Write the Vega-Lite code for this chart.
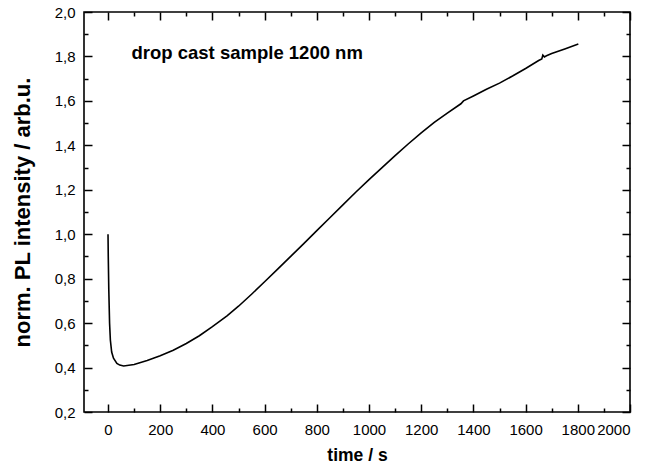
{
  "$schema": "https://vega.github.io/schema/vega-lite/v6.json",
  "autosize": {"type": "none"},
  "padding": {"left": 84, "top": 12, "right": 18, "bottom": 57},
  "width": 546,
  "height": 400,
  "config": {
    "view": {"stroke": "black", "strokeWidth": 1.6},
    "font": "Liberation Sans",
    "axis": {"grid": false, "domain": false, "tickColor": "black", "tickWidth": 1.5, "labelColor": "black", "titleColor": "black", "labelFont": "Liberation Sans", "titleFont": "Liberation Sans", "labelFontSize": 15, "titleFontSize": 17.5, "titleFontWeight": "bold"}
  },
  "data": {
    "values": [
      {"t": 0, "v": 1.0}, {"t": 1, "v": 0.9}, {"t": 3, "v": 0.75}, {"t": 6, "v": 0.6},
      {"t": 9, "v": 0.524}, {"t": 14, "v": 0.47}, {"t": 21, "v": 0.442}, {"t": 34, "v": 0.419},
      {"t": 45, "v": 0.411}, {"t": 60, "v": 0.407}, {"t": 100, "v": 0.414}, {"t": 150, "v": 0.432},
      {"t": 200, "v": 0.453}, {"t": 250, "v": 0.478}, {"t": 300, "v": 0.508}, {"t": 350, "v": 0.543},
      {"t": 400, "v": 0.584}, {"t": 456, "v": 0.633}, {"t": 500, "v": 0.676}, {"t": 550, "v": 0.73},
      {"t": 600, "v": 0.786}, {"t": 650, "v": 0.843}, {"t": 700, "v": 0.9}, {"t": 750, "v": 0.958},
      {"t": 800, "v": 1.016}, {"t": 850, "v": 1.074}, {"t": 900, "v": 1.132}, {"t": 950, "v": 1.19},
      {"t": 1000, "v": 1.246}, {"t": 1050, "v": 1.3}, {"t": 1100, "v": 1.354}, {"t": 1150, "v": 1.406},
      {"t": 1200, "v": 1.456}, {"t": 1250, "v": 1.503}, {"t": 1300, "v": 1.545}, {"t": 1352, "v": 1.587},
      {"t": 1362, "v": 1.6}, {"t": 1400, "v": 1.622}, {"t": 1450, "v": 1.652}, {"t": 1500, "v": 1.68},
      {"t": 1550, "v": 1.712}, {"t": 1600, "v": 1.746}, {"t": 1650, "v": 1.782}, {"t": 1662, "v": 1.789},
      {"t": 1666, "v": 1.806}, {"t": 1672, "v": 1.798}, {"t": 1680, "v": 1.803}, {"t": 1700, "v": 1.813},
      {"t": 1750, "v": 1.834}, {"t": 1802, "v": 1.856}
    ]
  },
  "layer": [
    {
      "mark": {"type": "line", "color": "black", "strokeWidth": 1.6},
      "encoding": {
        "x": {"field": "t", "type": "quantitative", "scale": {"domain": [-92, 2000], "nice": false, "zero": false},
              "axis": {"orient": "bottom", "title": "time / s", "values": [0, 200, 400, 600, 800, 1000, 1200, 1400, 1600, 1800, 2000], "format": "d", "tickSize": -8, "labelPadding": 18, "titlePadding": 9}},
        "y": {"field": "v", "type": "quantitative", "scale": {"domain": [0.2, 2.0], "nice": false, "zero": false},
              "axis": {"orient": "left", "title": "norm. PL intensity / arb.u.", "titleFontSize": 22, "values": [0.2, 0.4, 0.6, 0.8, 1.0, 1.2, 1.4, 1.6, 1.8, 2.0], "labelExpr": "replace(format(datum.value, '.1f'), '.', ',')", "tickSize": -8, "labelPadding": 17, "titlePadding": 20}}
      }
    },
    {
      "mark": {"type": "line", "opacity": 0},
      "encoding": {
        "x": {"field": "t", "type": "quantitative", "axis": {"orient": "bottom", "title": null, "labels": false, "values": [100, 300, 500, 700, 900, 1100, 1300, 1500, 1700, 1900], "tickSize": -4}},
        "y": {"field": "v", "type": "quantitative", "axis": {"orient": "left", "title": null, "labels": false, "values": [0.3, 0.5, 0.7, 0.9, 1.1, 1.3, 1.5, 1.7, 1.9], "tickSize": -4}}
      }
    },
    {
      "mark": {"type": "line", "opacity": 0},
      "encoding": {
        "x": {"field": "t", "type": "quantitative", "axis": {"orient": "top", "title": null, "labels": false, "values": [0, 200, 400, 600, 800, 1000, 1200, 1400, 1600, 1800, 2000], "tickSize": -8}},
        "y": {"field": "v", "type": "quantitative", "axis": {"orient": "right", "title": null, "labels": false, "values": [0.2, 0.4, 0.6, 0.8, 1.0, 1.2, 1.4, 1.6, 1.8, 2.0], "tickSize": -8}}
      }
    },
    {
      "mark": {"type": "line", "opacity": 0},
      "encoding": {
        "x": {"field": "t", "type": "quantitative", "axis": {"orient": "top", "title": null, "labels": false, "values": [100, 300, 500, 700, 900, 1100, 1300, 1500, 1700, 1900], "tickSize": -4}},
        "y": {"field": "v", "type": "quantitative", "axis": {"orient": "right", "title": null, "labels": false, "values": [0.3, 0.5, 0.7, 0.9, 1.1, 1.3, 1.5, 1.7, 1.9], "tickSize": -4}}
      }
    },
    {
      "data": {"values": [{"t": 90, "v": 1.815, "label": "drop cast sample 1200 nm"}]},
      "mark": {"type": "text", "align": "left", "baseline": "middle", "fontSize": 18.5, "fontWeight": "bold", "font": "Liberation Sans", "color": "black"},
      "encoding": {
        "x": {"field": "t", "type": "quantitative", "axis": null},
        "y": {"field": "v", "type": "quantitative", "axis": null},
        "text": {"field": "label"}
      }
    }
  ],
  "resolve": {"axis": {"x": "independent", "y": "independent"}}
}
